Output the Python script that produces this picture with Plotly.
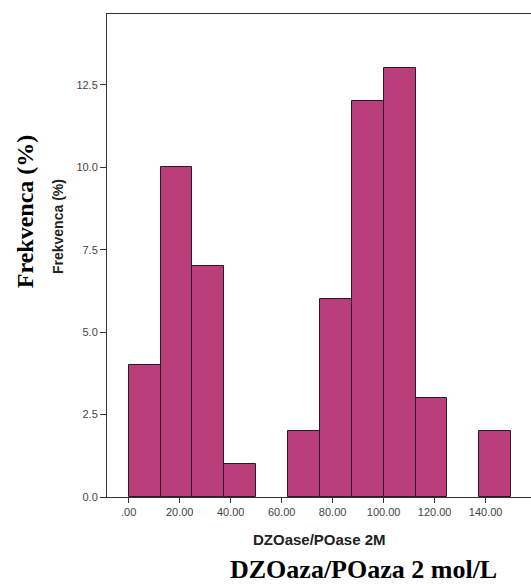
import plotly.graph_objects as go

# Histogram bins (left edges) and frequencies (%)
bin_starts = [0, 12.5, 25, 37.5, 62.5, 75, 87.5, 100, 112.5, 137.5]
bin_width = 12.5
freqs = [4, 10, 7, 1, 2, 6, 12, 13, 3, 2]

x_ticks = [0, 20, 40, 60, 80, 100, 120, 140]
x_ticklabels = [".00", "20.00", "40.00", "60.00", "80.00", "100.00", "120.00", "140.00"]
y_ticks = [0, 2.5, 5, 7.5, 10, 12.5]
y_ticklabels = ["0.0", "2.5", "5.0", "7.5", "10.0", "12.5"]

centers = [s + bin_width / 2 for s in bin_starts]

fig = go.Figure()
fig.add_trace(go.Bar(
    x=centers, y=freqs, width=[bin_width] * len(freqs),
    marker=dict(color="#BA3E7C", line=dict(color="#2a1a22", width=1)),
    hoverinfo="skip",
))

axis_font = dict(family="Liberation Sans, Arial", size=11, color="#444")
fig.update_layout(
    width=531, height=586,
    margin=dict(l=107, r=0, t=14, b=89),
    paper_bgcolor="white", plot_bgcolor="white",
    showlegend=False,
    bargap=0,
    xaxis=dict(
        range=[-8.5, 157.8], tickvals=x_ticks, ticktext=x_ticklabels,
        showgrid=False, zeroline=False, showline=True, linecolor="#333", linewidth=1,
        mirror=True, ticks="outside", ticklen=5, tickcolor="#333",
        tickfont=axis_font, automargin=False,
    ),
    yaxis=dict(
        range=[0, 14.65], tickvals=y_ticks, ticktext=y_ticklabels,
        showgrid=False, zeroline=False, showline=True, linecolor="#333", linewidth=1,
        ticks="outside", ticklen=6, tickcolor="#333",
        tickfont=axis_font, automargin=False,
    ),
    annotations=[
        dict(text="<b>Frekvenca (%)</b>", xref="paper", yref="paper",
             x=-0.1156, y=0.561, textangle=-90, showarrow=False,
             xanchor="center", yanchor="middle",
             font=dict(family="Liberation Sans, Arial", size=14, color="#222")),
        dict(text="<b>Frekvenca (%)</b>", xref="paper", yref="paper",
             x=-0.193, y=0.592, textangle=-90, showarrow=False,
             xanchor="center", yanchor="middle",
             font=dict(family="Liberation Serif, Times New Roman", size=24, color="black")),
        dict(text="<b>DZOase/POase 2M</b>", xref="paper", yref="paper",
             x=0.5, y=-0.089, showarrow=False,
             xanchor="center", yanchor="middle",
             font=dict(family="Liberation Sans, Arial", size=15, color="#222")),
        dict(text="<b>DZOaza/POaza 2 mol/L</b>", xref="paper", yref="paper",
             x=0.606, y=-0.150, showarrow=False,
             xanchor="center", yanchor="middle",
             font=dict(family="Liberation Serif, Times New Roman", size=26, color="black")),
    ],
)

fig.write_html(
    "out.html",
    config={"displayModeBar": False},
    post_script="document.body.style.margin='0';document.body.style.overflow='hidden';",
)
